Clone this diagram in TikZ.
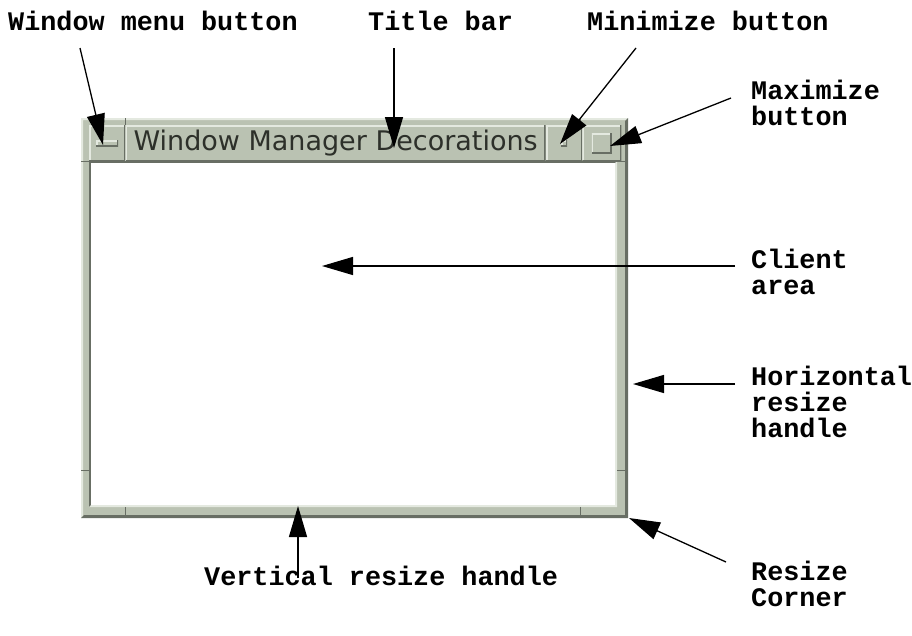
\documentclass[tikz,border=0pt]{standalone}
\usepackage{fontspec}
\setmonofont{Liberation Mono}
\setsansfont{DejaVu Sans}
\usetikzlibrary{arrows.meta}

\definecolor{wmface}{RGB}{186,194,178}
\definecolor{wmlight}{RGB}{228,233,224}
\definecolor{wmdark}{RGB}{104,110,100}
\definecolor{wmtext}{RGB}{45,48,42}

\tikzset{
  callout/.style={font=\fontsize{26.8}{26}\selectfont\ttfamily\bfseries, inner sep=0pt, align=left},
  pointer/.style={line width=1.3pt, -{Triangle[length=31pt,width=18pt]}},
  wmbutton/.style={rectangle, fill=wmface, inner sep=0pt, minimum height=36pt,
    path picture={
      \draw[wmlight, line width=3pt] (path picture bounding box.south west)
        -- (path picture bounding box.north west) -- (path picture bounding box.north east);
      \draw[wmdark, line width=3pt] (path picture bounding box.north east)
        -- (path picture bounding box.south east) -- (path picture bounding box.south west);
    }},
  notch/.style={wmdark, line width=1pt},
}

\begin{document}
\begin{tikzpicture}[x=1pt,y=-1pt]
  \useasboundingbox (0,0) rectangle (912,635);

  % window frame
  \fill[wmface] (81,118) rectangle (628,518);
  \fill[wmlight] (81,118) -- (628,118) -- (626,120) -- (83,120) -- (83,516) -- (81,518) -- cycle;
  \fill[wmdark] (628,118) -- (628,518) -- (81,518) -- (84,515) -- (625,515) -- (625,121) -- cycle;
  \fill[wmdark] (89,161) rectangle (617,507);
  \fill[wmlight] (617,161) -- (617,507) -- (89,507) -- (91,505) -- (615,505) -- (615,163) -- cycle;
  \fill[white] (91,163) rectangle (615,505);

  % resize notches
  \draw[notch] (81,470) -- (89,470) (617,470) -- (628,470);
  \draw[notch] (125,507) -- (125,518) (580,507) -- (580,518);
  \draw[notch] (125,118) -- (125,125) (580,118) -- (580,125);
  \draw[notch] (81,161) -- (89,161) (620,161) -- (628,161);

  % title bar
  \node[wmbutton, minimum width=36pt, anchor=north west] (menubtn) at (89,125) {};
  \node[wmbutton, minimum width=420pt, anchor=west, text=wmtext,
        font=\fontsize{27}{27}\selectfont\sffamily] (titlebar) at (menubtn.east) {Window Manager Decorations};
  \node[wmbutton, minimum width=36pt, anchor=west] (minbtn) at (titlebar.east) {};
  \node[wmbutton, minimum width=39pt, anchor=west] (maxbtn) at (minbtn.east) {};
  \node[wmbutton, minimum width=22pt, minimum height=6pt] (menuglyph) at (menubtn) {};
  \node[wmbutton, minimum width=6pt, minimum height=6pt] (minglyph) at (minbtn) {};
  \node[wmbutton, minimum width=20pt, minimum height=20pt] (maxglyph) at (maxbtn) {};

  % labels (base = last line)
  \node[callout, anchor=base west] (menulbl) at (8,30) {Window menu button};
  \node[callout, anchor=base west] (titlelbl) at (368,30) {Title bar};
  \node[callout, anchor=base west] (minlbl) at (587,30) {Minimize button};
  \node[callout, anchor=base west] (maxlbl) at (751,125) {Maximize\\button};
  \node[callout, anchor=base west] (clientlbl) at (751,294) {Client\\area};
  \node[callout, anchor=base west] (hreslbl) at (751,437) {Horizontal\\resize\\handle};
  \node[callout, anchor=base west] (vreslbl) at (204,585) {Vertical resize handle};
  \node[callout, anchor=base west] (cornerlbl) at (751,606) {Resize\\Corner};

  % arrow ends
  \coordinate (menutail) at (80,48);     \coordinate (menutip) at (103,145);
  \coordinate (titletail) at (394,48);   \coordinate (titletip) at (394,148);
  \coordinate (mintail) at (636,48);     \coordinate (mintip) at (560,144);
  \coordinate (maxtail) at (731,98);     \coordinate (maxtip) at (610,146);
  \coordinate (clienttail) at (735,266); \coordinate (clienttip) at (322,266);
  \coordinate (hrestail) at (735,384);   \coordinate (hrestip) at (633,384);
  \coordinate (vrestail) at (298,578);   \coordinate (vrestip) at (298,506);
  \coordinate (cornertail) at (726,562); \coordinate (cornertip) at (629,518);

  \draw[pointer] (menutail) -- (menutip);
  \draw[pointer] (titletail) -- (titletip);
  \draw[pointer] (mintail) -- (mintip);
  \draw[pointer] (maxtail) -- (maxtip);
  \draw[pointer] (clienttail) -- (clienttip);
  \draw[pointer] (hrestail) -- (hrestip);
  \draw[pointer] (vrestail) -- (vrestip);
  \draw[pointer] (cornertail) -- (cornertip);
\end{tikzpicture}
\end{document}
